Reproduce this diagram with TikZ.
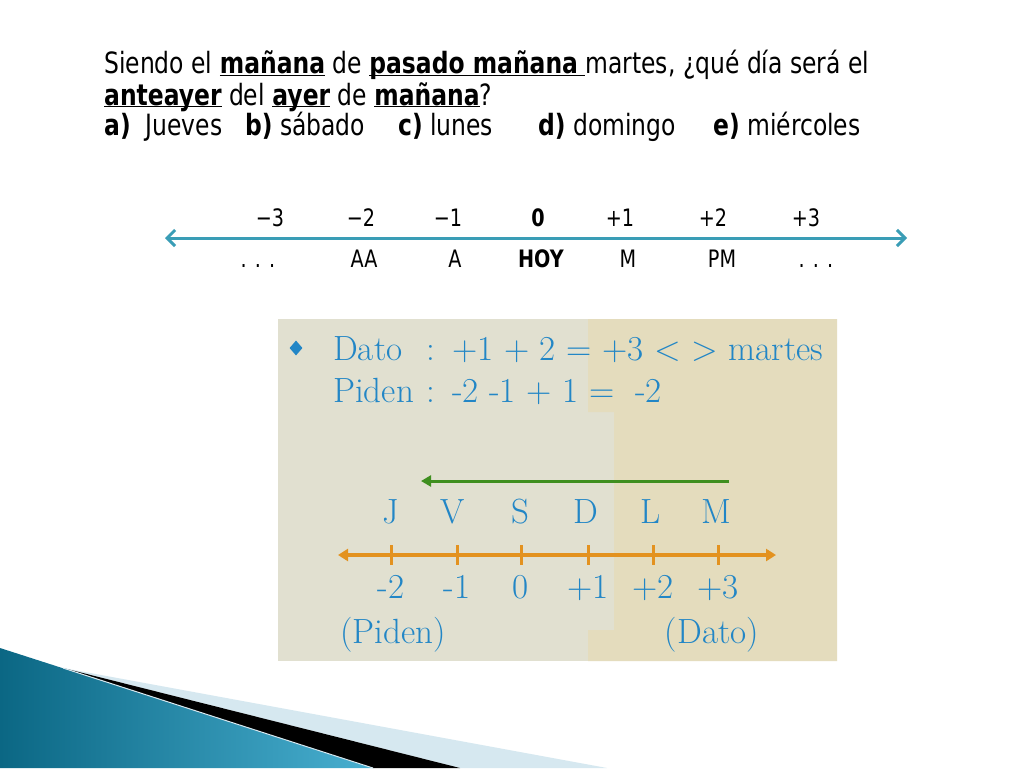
\documentclass[tikz,border=0pt]{standalone}
\usepackage{fontspec}
\setsansfont{DejaVu Sans}[FakeStretch=0.8]
\usetikzlibrary{calc,arrows.meta,shapes.geometric}

\definecolor{linecyan}{HTML}{3A9DB6}
\definecolor{boxgray}{HTML}{E1E0D0}
\definecolor{boxbeige}{HTML}{E4DCBD}
\definecolor{inkblue}{HTML}{2286C6}
\definecolor{arrowgreen}{HTML}{3F8F1F}
\definecolor{lineorange}{HTML}{E3921F}
\definecolor{tealdark}{HTML}{0B6784}
\definecolor{teallight}{HTML}{48AFD0}
\definecolor{bandlight}{HTML}{D6E8F0}

\newcommand{\undl}[1]{\underline{\smash{#1}}}

\tikzset{
	qtext/.style={font=\sffamily\fontsize{29.3}{31}\selectfont, anchor=base west, inner sep=0pt},
	numlab/.style={font=\sffamily\fontsize{24}{26}\selectfont, anchor=base, inner sep=0pt},
	boxtext/.style={font=\fontsize{35}{40}\selectfont, text=inkblue, anchor=base west, inner sep=0pt},
	daylab/.style={boxtext, anchor=base},
}

\begin{document}
\begin{tikzpicture}[x=1pt,y=-1pt]

\useasboundingbox[fill=white] (0,0) rectangle (1024,768);

%question
\node[qtext](line1) at (104,74){Siendo el \undl{\textbf{mañana}} de \undl{\textbf{pasado mañana}~}martes, ¿qué día será el};
\node[qtext](line2) at (104,105){\undl{\textbf{anteayer}} del \undl{\textbf{ayer}} de \undl{\textbf{mañana}}?};
\foreach \x/\t [count=\i] in {104/{\textbf{a)}~~Jueves}, 245/{\textbf{b)} sábado}, 398/{\textbf{c)} lunes}, 538/{\textbf{d)} domingo}, 713/{\textbf{e)} miércoles}}
{
	\node[qtext](opt\i) at (\x,135){\t};
}

%number line
\coordinate (nleft) at (165,238);
\coordinate (nright) at (907,238);
\draw[linecyan, line width=3pt, {Straight Barb[length=8pt,width=16pt]}-{Straight Barb[length=8pt,width=16pt]}] (nleft) -- (nright);

\foreach \x/\t [count=\i] in {270/−3, 361/−2, 448/−1, 538/\textbf{0}, 620/+1, 713/+2, 806/+3}
{
	\node[numlab](num\i) at (\x,226){\t};
}
\foreach \x/\t [count=\i] in {258/. . ., 364/AA, 455/A, 541/\textbf{HOY}, 628/M, 722/PM, 816/. . .}
{
	\node[numlab](day\i) at (\x,267){\t};
}

%solution box
\fill[boxgray] (278,319) rectangle (837,661);
\fill[boxbeige] (588,319) -- (837,319) -- (837,661) -- (588,661) -- (588,630) -- (614,630) -- (614,412) -- (588,412) -- cycle;

\node[diamond, fill=inkblue, minimum width=13pt, minimum height=15pt, inner sep=0pt](bullet) at (296,348){};
\node[boxtext](dato) at (333,360){Dato};
\node[boxtext](datocolon) at (426,360){:};
\node[boxtext](datoeq) at (452,360){+1 + 2 = +3 < > martes};
\node[boxtext](piden) at (333,402){Piden};
\node[boxtext](pidencolon) at (426,402){:};
\node[boxtext](pideneq) at (452,402){-2\ -1\ + 1\ =\ \ -2};

%green arrow
\coordinate (gstart) at (729,481);
\coordinate (gend) at (421,481);
\draw[arrowgreen, line width=3pt, -{Triangle[length=10pt,width=11pt]}] (gstart) -- (gend);

\foreach \x/\d in {391/J, 453/V, 520/S, 586/D, 651/L, 716/M}
{
	\node[daylab](week\d) at (\x,523){\d};
}

%orange line
\coordinate (oleft) at (338,555);
\coordinate (oright) at (776,555);
\draw[lineorange, line width=3.5pt, {Triangle[length=10pt,width=12pt]}-{Triangle[length=10pt,width=12pt]}] (oleft) -- (oright);
\foreach \x/\t [count=\i] in {391/-2, 457/-1, 521/0, 588/+1, 653/+2, 718/+3}
{
	\coordinate (tick\i) at (\x,555);
	\draw[lineorange, line width=3pt] ($(tick\i)+(0,-10)$) -- ($(tick\i)+(0,10)$);
	\node[daylab](val\i) at (\x,598){\t};
}
\node[daylab](pidenlab) at (393,643){(Piden)};
\node[daylab](datolab) at (712,643){(Dato)};

%corner decoration
\shade[left color=tealdark, right color=teallight] (0,648) -- (373,768) -- (0,768) -- cycle;
\fill[bandlight] (63,668) -- (607,768) -- (460,768) -- cycle;
\fill[black] (63,668) -- (460,768) -- (373,768) -- cycle;
\draw[bandlight, line width=1pt] (63,668) -- (373,768);

\end{tikzpicture}
\end{document}
